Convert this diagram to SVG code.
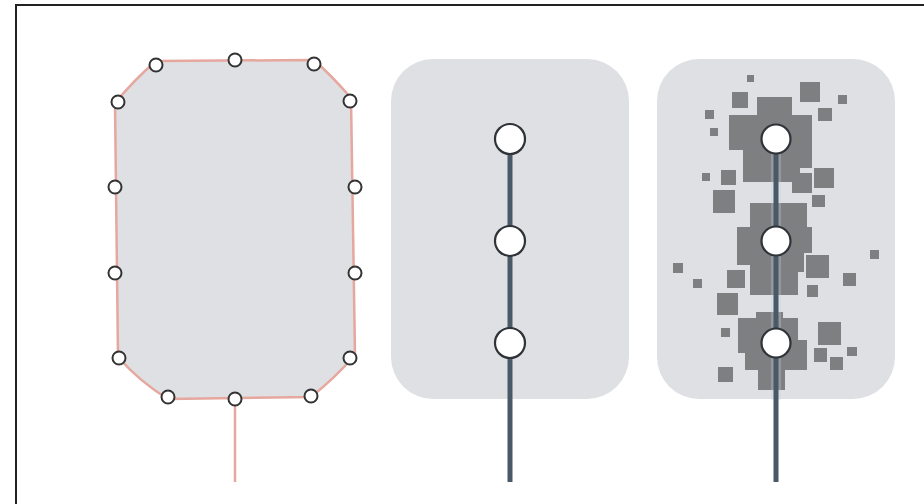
<svg xmlns="http://www.w3.org/2000/svg" width="924" height="504" viewBox="0 0 924 504">
<style>
.panel{fill:#dee0e3}
.sq{fill:#7e7f80}
.pin{fill:#fff;stroke:#333;stroke-width:2}
.big{fill:#fff;stroke:#2f3338;stroke-width:2.2}
.rail{stroke:#4a5968;stroke-width:5;fill:none}
.pink{stroke:#e6a79f;stroke-width:2.5;fill:none;stroke-linejoin:round}
</style>
<rect width="924" height="504" fill="#fff"/>
<path d="M16,504 L16,5 L924,5" fill="none" stroke="#222" stroke-width="2"/>

<g id="panel1">
<path class="panel" d="M156,61 L314,60 Q332,76 351,98 L355,355 Q335,378 311,397 L168,399 Q140,382 118,357 L115,103 Q134,80 156,61 Z"/>
<path class="pink" d="M156,61 L314,60 Q332,76 351,98 L355,355 Q335,378 311,397 L168,399 Q140,382 118,357 L115,103 Q134,80 156,61 Z"/>
</g>
<g id="panel2"><rect class="panel" x="391" y="59" width="238" height="340" rx="42"/></g>
<g id="panel3"><rect class="panel" x="657" y="59" width="238" height="340" rx="42"/>
<g id="squares">
<rect class="sq" x="747" y="75" width="7" height="7"/>
<rect class="sq" x="732" y="92" width="16" height="16"/>
<rect class="sq" x="800" y="82" width="20" height="20"/>
<rect class="sq" x="838" y="95" width="9" height="9"/>
<rect class="sq" x="818" y="108" width="14" height="13"/>
<rect class="sq" x="705" y="110" width="9" height="9"/>
<rect class="sq" x="710" y="128" width="8" height="8"/>
<rect class="sq" x="757" y="97" width="35" height="20"/>
<rect class="sq" x="729" y="115" width="83" height="35"/>
<rect class="sq" x="743" y="150" width="57" height="32"/>
<rect class="sq" x="800" y="150" width="12" height="18"/>
<rect class="sq" x="702" y="173" width="8" height="8"/>
<rect class="sq" x="721" y="170" width="15" height="15"/>
<rect class="sq" x="792" y="173" width="20" height="20"/>
<rect class="sq" x="814" y="168" width="20" height="20"/>
<rect class="sq" x="713" y="190" width="22" height="23"/>
<rect class="sq" x="812" y="195" width="13" height="12"/>
<rect class="sq" x="750" y="203" width="57" height="25"/>
<rect class="sq" x="737" y="227" width="75" height="26"/>
<rect class="sq" x="737" y="253" width="61" height="12"/>
<rect class="sq" x="750" y="253" width="48" height="42"/>
<rect class="sq" x="798" y="253" width="6" height="19"/>
<rect class="sq" x="806" y="255" width="23" height="23"/>
<rect class="sq" x="807" y="285" width="11" height="12"/>
<rect class="sq" x="843" y="273" width="13" height="13"/>
<rect class="sq" x="870" y="250" width="9" height="9"/>
<rect class="sq" x="673" y="263" width="10" height="10"/>
<rect class="sq" x="693" y="279" width="9" height="9"/>
<rect class="sq" x="727" y="270" width="18" height="18"/>
<rect class="sq" x="717" y="293" width="21" height="22"/>
<rect class="sq" x="721" y="328" width="9" height="9"/>
<rect class="sq" x="756" y="312" width="27" height="8"/>
<rect class="sq" x="738" y="318" width="60" height="35"/>
<rect class="sq" x="745" y="340" width="62" height="30"/>
<rect class="sq" x="758" y="370" width="27" height="20"/>
<rect class="sq" x="818" y="322" width="23" height="23"/>
<rect class="sq" x="814" y="348" width="13" height="14"/>
<rect class="sq" x="830" y="357" width="13" height="13"/>
<rect class="sq" x="847" y="347" width="10" height="9"/>
<rect class="sq" x="718" y="367" width="15" height="15"/>
</g>
</g>

<g id="connectors">
<line class="pink" x1="235" y1="399" x2="235" y2="482"/>
<line class="rail" x1="510" y1="139" x2="510" y2="482"/>
<line x1="776" y1="139" x2="776" y2="400" stroke="#c8d5df" stroke-width="10" opacity="0.3"/>
<line class="rail" x1="776" y1="139" x2="776" y2="482"/>
</g>

<g id="pins1">
<circle class="pin" cx="156" cy="65" r="6.5"/>
<circle class="pin" cx="235" cy="60" r="6.5"/>
<circle class="pin" cx="314" cy="64" r="6.5"/>
<circle class="pin" cx="118" cy="102" r="6.5"/>
<circle class="pin" cx="350" cy="101" r="6.5"/>
<circle class="pin" cx="115" cy="187" r="6.5"/>
<circle class="pin" cx="355" cy="187" r="6.5"/>
<circle class="pin" cx="115" cy="273" r="6.5"/>
<circle class="pin" cx="355" cy="273" r="6.5"/>
<circle class="pin" cx="119" cy="358" r="6.5"/>
<circle class="pin" cx="350" cy="358" r="6.5"/>
<circle class="pin" cx="168" cy="397" r="6.5"/>
<circle class="pin" cx="235" cy="399" r="6.5"/>
<circle class="pin" cx="311" cy="396" r="6.5"/>
</g>
<g id="nodes2">
<circle class="big" cx="510" cy="139" r="15"/>
<circle class="big" cx="510" cy="241" r="15"/>
<circle class="big" cx="510" cy="343" r="15"/>
</g>
<g id="nodes3">
<circle class="big" cx="776" cy="139" r="14.5"/>
<circle class="big" cx="776" cy="241" r="14.5"/>
<circle class="big" cx="776" cy="343" r="14.5"/>
</g>
</svg>
